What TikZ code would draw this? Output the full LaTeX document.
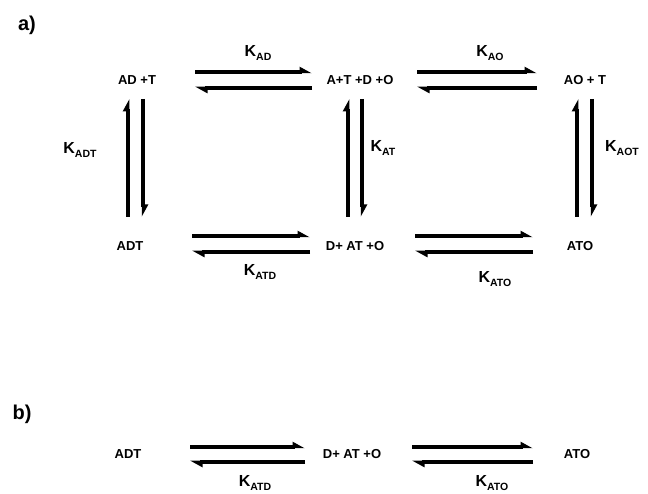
\documentclass[tikz,border=0pt]{standalone}
\usepackage{fontspec}
\setmainfont{Liberation Sans}
\usetikzlibrary{arrows.meta}
\newcommand{\Kc}[1]{K\raisebox{-3.5pt}{\fontsize{10.5}{11}\selectfont #1}}
\tikzset{
  species/.style={font=\fontsize{13}{14}\selectfont\bfseries, inner sep=0pt},
  klabel/.style={font=\fontsize{16}{17}\selectfont\bfseries, inner sep=0pt},
  panel/.style={font=\fontsize{20}{21}\selectfont\bfseries, inner sep=0pt},
  eqarrow/.style={line width=3.4pt, -{Triangle[harpoon,length=10pt,width=10pt]}}
}
\begin{document}
\begin{tikzpicture}[x=1pt,y=1pt]
\useasboundingbox[fill=white] (0,0) rectangle (648,494);
% panel labels
\node[panel] (pa) at (27,469) {a)};
\node[panel] (pb) at (22,80) {b)};
% species a)
\node[species] (ADpT) at (137,414) {AD +T};
\node[species] (ApTpDpO) at (360,414) {A+T +D +O};
\node[species] (AOpT) at (585,414) {AO + T};
\node[species] (ADT) at (130,248) {ADT};
\node[species] (DpATpO) at (355,248) {D+ AT +O};
\node[species] (ATO) at (580,248) {ATO};
% species b)
\node[species] (bADT) at (128,40) {ADT};
\node[species] (bDpATpO) at (352,40) {D+ AT +O};
\node[species] (bATO) at (577,40) {ATO};
% row 1 horizontal
\draw[eqarrow] ([shift={(58,8)}]ADpT.center) -- ([shift={(-48,8)}]ApTpDpO.center);
\draw[eqarrow] ([shift={(-48,-8)}]ApTpDpO.center) -- ([shift={(58,-8)}]ADpT.center);
\draw[eqarrow] ([shift={(57,8)}]ApTpDpO.center) -- ([shift={(-48,8)}]AOpT.center);
\draw[eqarrow] ([shift={(-48,-8)}]AOpT.center) -- ([shift={(57,-8)}]ApTpDpO.center);
% row 2 horizontal
\draw[eqarrow] ([shift={(62,10)}]ADT.center) -- ([shift={(-45,10)}]DpATpO.center);
\draw[eqarrow] ([shift={(-45,-6)}]DpATpO.center) -- ([shift={(62,-6)}]ADT.center);
\draw[eqarrow] ([shift={(60,10)}]DpATpO.center) -- ([shift={(-47,10)}]ATO.center);
\draw[eqarrow] ([shift={(-47,-6)}]ATO.center) -- ([shift={(60,-6)}]DpATpO.center);
% verticals
\draw[eqarrow] ([shift={(-2,29)}]ADT.center) -- ([shift={(-9,-19)}]ADpT.center);
\draw[eqarrow] ([shift={(6,-19)}]ADpT.center) -- ([shift={(13,29)}]ADT.center);
\draw[eqarrow] ([shift={(-7,29)}]DpATpO.center) -- ([shift={(-12,-19)}]ApTpDpO.center);
\draw[eqarrow] ([shift={(2,-19)}]ApTpDpO.center) -- ([shift={(7,29)}]DpATpO.center);
\draw[eqarrow] ([shift={(-3,29)}]ATO.center) -- ([shift={(-8,-19)}]AOpT.center);
\draw[eqarrow] ([shift={(7,-19)}]AOpT.center) -- ([shift={(12,29)}]ATO.center);
% row b horizontal
\draw[eqarrow] ([shift={(62,7)}]bADT.center) -- ([shift={(-47,7)}]bDpATpO.center);
\draw[eqarrow] ([shift={(-47,-8)}]bDpATpO.center) -- ([shift={(62,-8)}]bADT.center);
\draw[eqarrow] ([shift={(60,7)}]bDpATpO.center) -- ([shift={(-44,7)}]bATO.center);
\draw[eqarrow] ([shift={(-44,-8)}]bATO.center) -- ([shift={(60,-8)}]bDpATpO.center);
% rate constants
\node[klabel] (kAD) at (258,441) {\Kc{AD}};
\node[klabel] (kAO) at (490,441) {\Kc{AO}};
\node[klabel] (kADT) at (80,344) {\Kc{ADT}};
\node[klabel] (kAT) at (383,346) {\Kc{AT}};
\node[klabel] (kAOT) at (622,346) {\Kc{AOT}};
\node[klabel] (kATD) at (260,222) {\Kc{ATD}};
\node[klabel] (kATO) at (495,215) {\Kc{ATO}};
\node[klabel] (bkATD) at (255,11) {\Kc{ATD}};
\node[klabel] (bkATO) at (492,11) {\Kc{ATO}};
\end{tikzpicture}
\end{document}
